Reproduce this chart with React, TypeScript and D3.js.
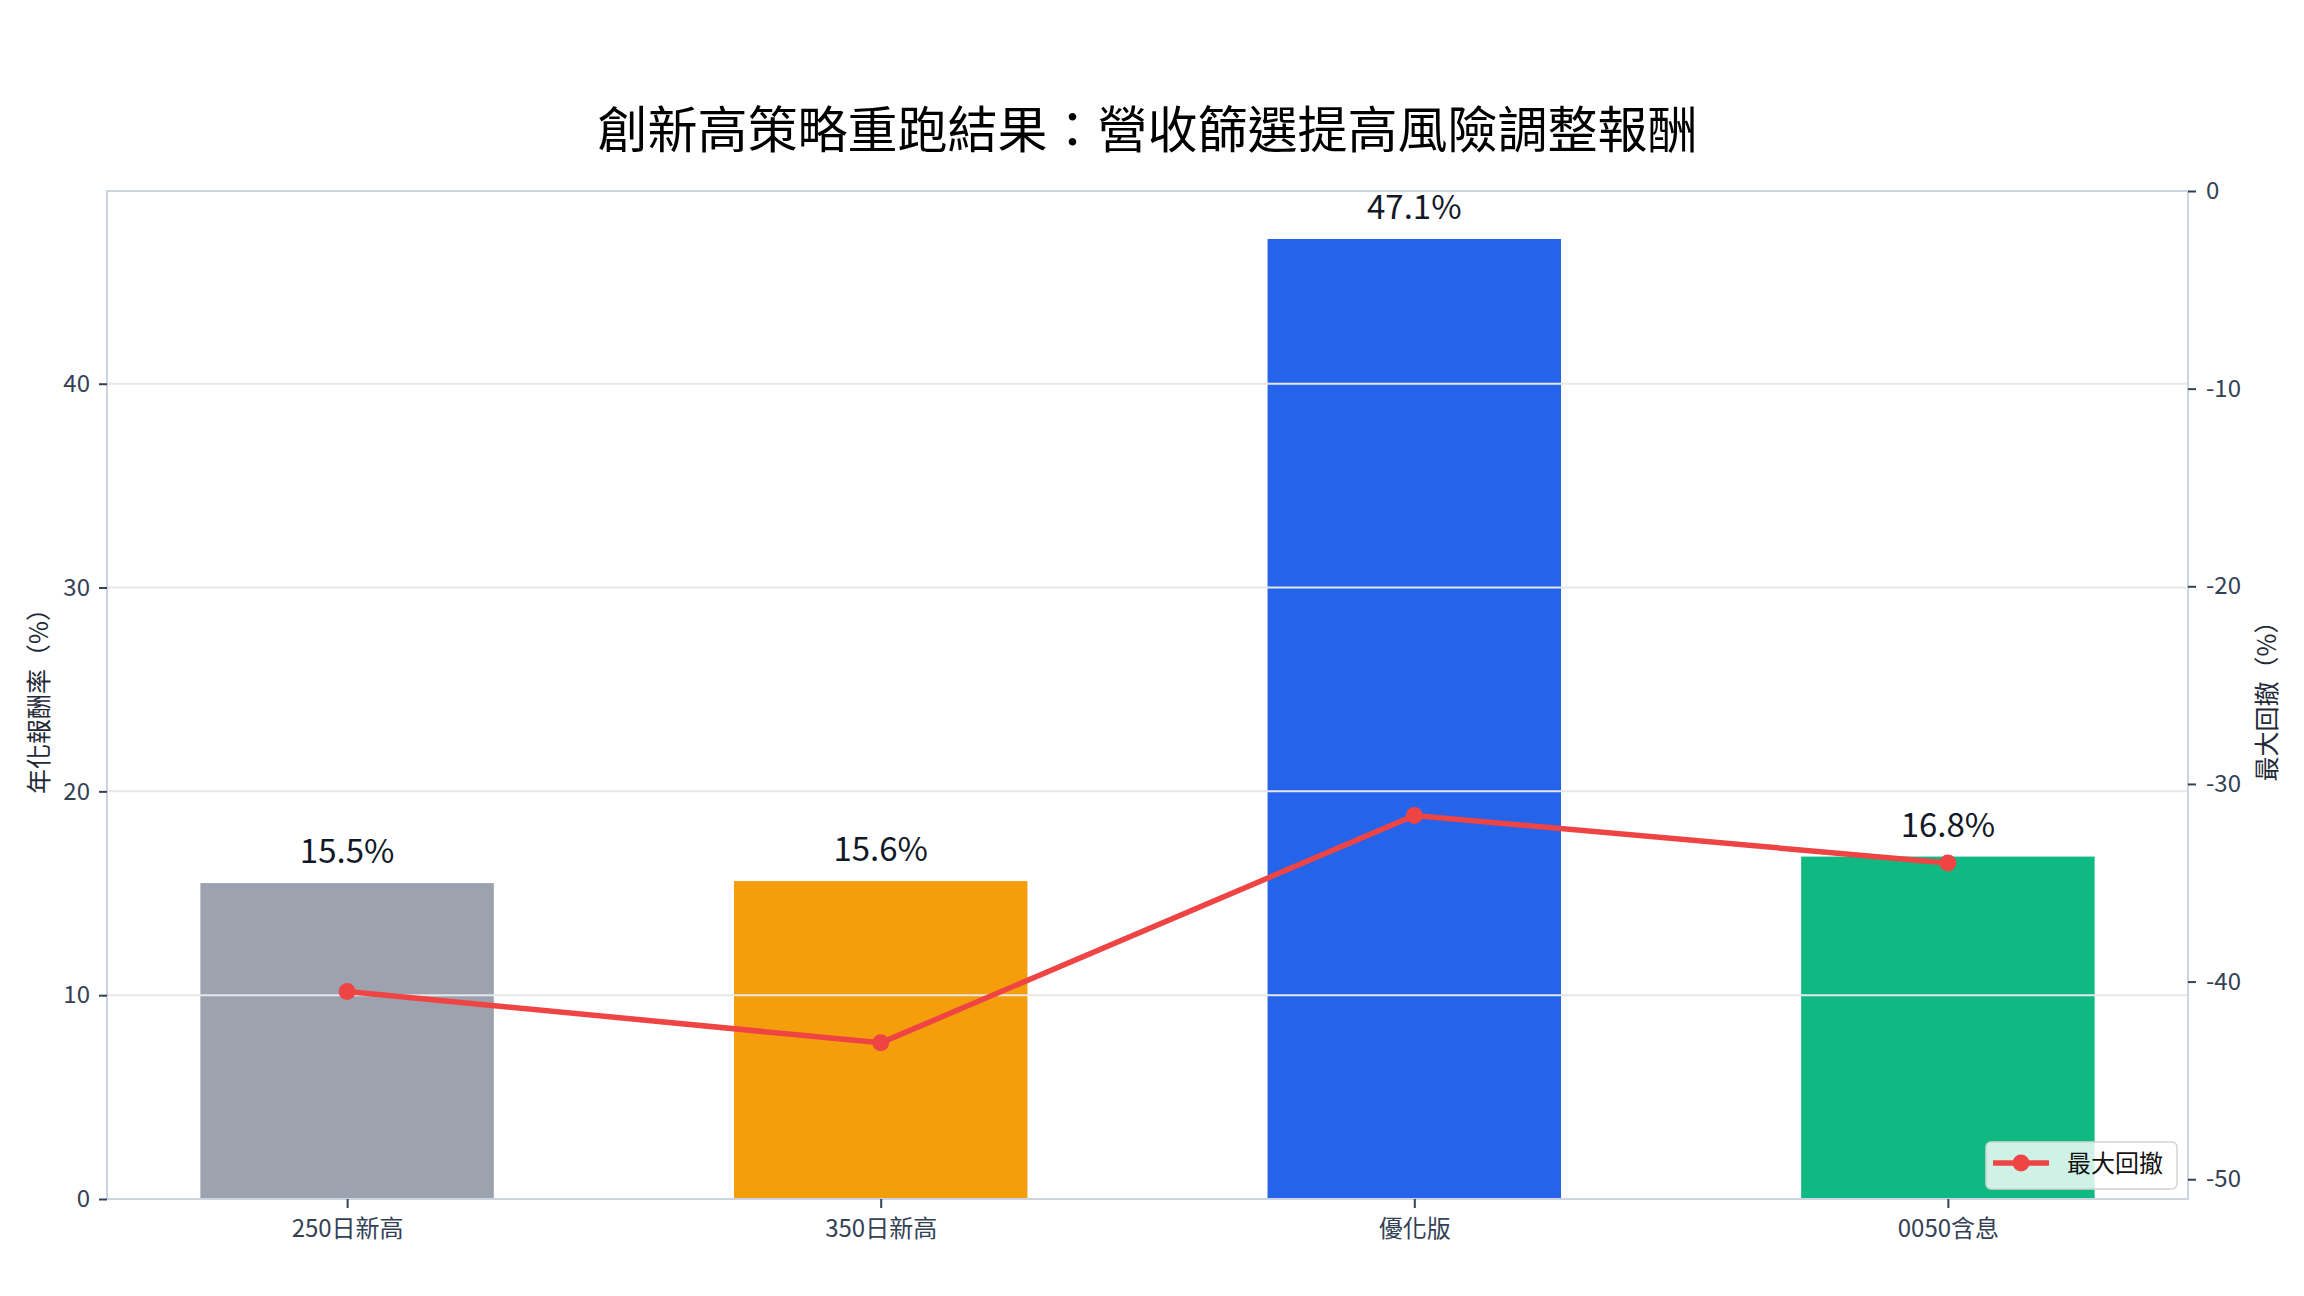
import React, { useEffect, useRef } from 'react';
import * as d3 from 'd3';

const categories = ['250日新高', '350日新高', '優化版', '0050含息'];
const annualReturn = [15.5, 15.6, 47.1, 16.8];
const maxDrawdown = [-40.5, -43.1, -31.6, -34.0];
const barColors = ['#9ca3af', '#f59e0b', '#2563eb', '#10b981'];
const leftTicks = [0, 10, 20, 30, 40];
const rightTicks = [0, -10, -20, -30, -40, -50];

const TITLE = '創新高策略重跑結果：營收篩選提高風險調整報酬';
const LEFT_LABEL = '年化報酬率（%）';
const RIGHT_LABEL = '最大回撤（%）';
const LEGEND_LABEL = '最大回撤';

const W = 2304;
const H = 1296;
const FONT = '"Noto Sans CJK TC", "Noto Sans", sans-serif';

const App: React.FC = () => {
  const svgRef = useRef<SVGSVGElement>(null);

  useEffect(() => {
    if (!svgRef.current) return;
    const margin = { top: 191, right: 116, bottom: 97, left: 107 };
    const x0 = margin.left;
    const x1 = W - margin.right;
    const y0 = H - margin.bottom;
    const y1 = margin.top;

    const svg = d3.select(svgRef.current);
    svg.selectAll('*').remove();

    svg.append('rect').attr('width', W).attr('height', H).attr('fill', '#ffffff');

    // Scales
    const xScale = d3.scaleLinear().domain([-0.45, categories.length - 0.55]).range([x0, x1]);
    const yLeft = d3.scaleLinear().domain([0, (d3.max(annualReturn) || 50) * 1.05]).range([y0, y1]);
    const yRight = d3.scaleLinear().domain([-51, 0]).range([y0, y1]);
    const barW = 0.55;

    // Bars
    svg.append('g')
      .selectAll('rect')
      .data(annualReturn)
      .enter()
      .append('rect')
      .attr('x', (d, i) => xScale(i - barW / 2))
      .attr('width', (d, i) => xScale(i + barW / 2) - xScale(i - barW / 2))
      .attr('y', d => yLeft(d))
      .attr('height', d => y0 - yLeft(d))
      .attr('fill', (d, i) => barColors[i]);

    // Grid lines (drawn over the bars)
    svg.append('g')
      .selectAll('line')
      .data(leftTicks.filter(t => t > 0))
      .enter()
      .append('line')
      .attr('x1', x0)
      .attr('x2', x1)
      .attr('y1', d => yLeft(d))
      .attr('y2', d => yLeft(d))
      .attr('stroke', '#e5e7eb')
      .attr('stroke-width', 2);

    // Value labels
    svg.append('g')
      .selectAll('text')
      .data(annualReturn)
      .enter()
      .append('text')
      .attr('x', (d, i) => xScale(i))
      .attr('y', d => yLeft(d) - 20)
      .attr('text-anchor', 'middle')
      .style('font-family', FONT)
      .style('font-size', '33px')
      .style('fill', '#111827')
      .text(d => `${d.toFixed(1)}%`);

    // Frame
    svg.append('rect')
      .attr('x', x0)
      .attr('y', y1)
      .attr('width', x1 - x0)
      .attr('height', y0 - y1)
      .attr('fill', 'none')
      .attr('stroke', '#cbd5e1')
      .attr('stroke-width', 2);

    // Left axis
    const leftAxis = svg.append('g')
      .attr('transform', `translate(${x0},0)`)
      .call(d3.axisLeft(yLeft).tickValues(leftTicks).tickSize(8).tickPadding(9));
    leftAxis.select('.domain').remove();

    // Right axis
    const rightAxis = svg.append('g')
      .attr('transform', `translate(${x1},0)`)
      .call(d3.axisRight(yRight)
        .tickValues(rightTicks)
        .tickFormat(d => String(d))
        .tickSize(8)
        .tickPadding(10));
    rightAxis.select('.domain').remove();

    // Bottom axis
    const bottomAxis = svg.append('g')
      .attr('transform', `translate(0,${y0})`)
      .call(d3.axisBottom(xScale)
        .tickValues(categories.map((c, i) => i))
        .tickFormat((d) => categories[d as number])
        .tickSize(9)
        .tickPadding(12));
    bottomAxis.select('.domain').remove();

    [leftAxis, rightAxis, bottomAxis].forEach(ax => {
      ax.selectAll('line').attr('stroke', '#334155').attr('stroke-width', 2);
      ax.selectAll('text')
        .style('font-family', FONT)
        .style('font-size', '24px')
        .style('fill', '#334155');
    });

    // Drawdown line
    const line = d3.line<number>()
      .x((d, i) => xScale(i))
      .y(d => yRight(d));

    svg.append('path')
      .datum(maxDrawdown)
      .attr('d', line)
      .attr('fill', 'none')
      .attr('stroke', '#ef4444')
      .attr('stroke-width', 5.5)
      .attr('stroke-linejoin', 'round');

    svg.append('g')
      .selectAll('circle')
      .data(maxDrawdown)
      .enter()
      .append('circle')
      .attr('cx', (d, i) => xScale(i))
      .attr('cy', d => yRight(d))
      .attr('r', 8.5)
      .attr('fill', '#ef4444');

    // Title
    svg.append('text')
      .attr('x', (x0 + x1) / 2)
      .attr('y', 148)
      .attr('text-anchor', 'middle')
      .style('font-family', FONT)
      .style('font-size', '50px')
      .style('fill', '#000000')
      .text(TITLE);

    // Axis labels
    svg.append('text')
      .attr('transform', `translate(48,${(y0 + y1) / 2}) rotate(-90)`)
      .attr('text-anchor', 'middle')
      .style('font-family', FONT)
      .style('font-size', '25px')
      .style('fill', '#1f2937')
      .text(LEFT_LABEL);

    svg.append('text')
      .attr('transform', `translate(2276,${(y0 + y1) / 2}) rotate(-90)`)
      .attr('text-anchor', 'middle')
      .style('font-family', FONT)
      .style('font-size', '25px')
      .style('fill', '#1f2937')
      .text(RIGHT_LABEL);

    // Legend
    const lg = svg.append('g').attr('transform', 'translate(1986,1142)');
    lg.append('rect')
      .attr('width', 191)
      .attr('height', 47)
      .attr('rx', 5)
      .attr('fill', 'rgba(255,255,255,0.8)')
      .attr('stroke', '#d4d4d4')
      .attr('stroke-width', 1.5);
    lg.append('line')
      .attr('x1', 7)
      .attr('x2', 63)
      .attr('y1', 21)
      .attr('y2', 21)
      .attr('stroke', '#ef4444')
      .attr('stroke-width', 5.5);
    lg.append('circle')
      .attr('cx', 35)
      .attr('cy', 21)
      .attr('r', 8.5)
      .attr('fill', '#ef4444');
    lg.append('text')
      .attr('x', 81)
      .attr('y', 30)
      .style('font-family', FONT)
      .style('font-size', '24px')
      .style('fill', '#111111')
      .text(LEGEND_LABEL);
  }, []);

  return (
    <div style={{ position: 'absolute', top: 0, left: 0, width: W, height: H }}>
      <svg ref={svgRef} width={W} height={H} />
    </div>
  );
};

export default App;
